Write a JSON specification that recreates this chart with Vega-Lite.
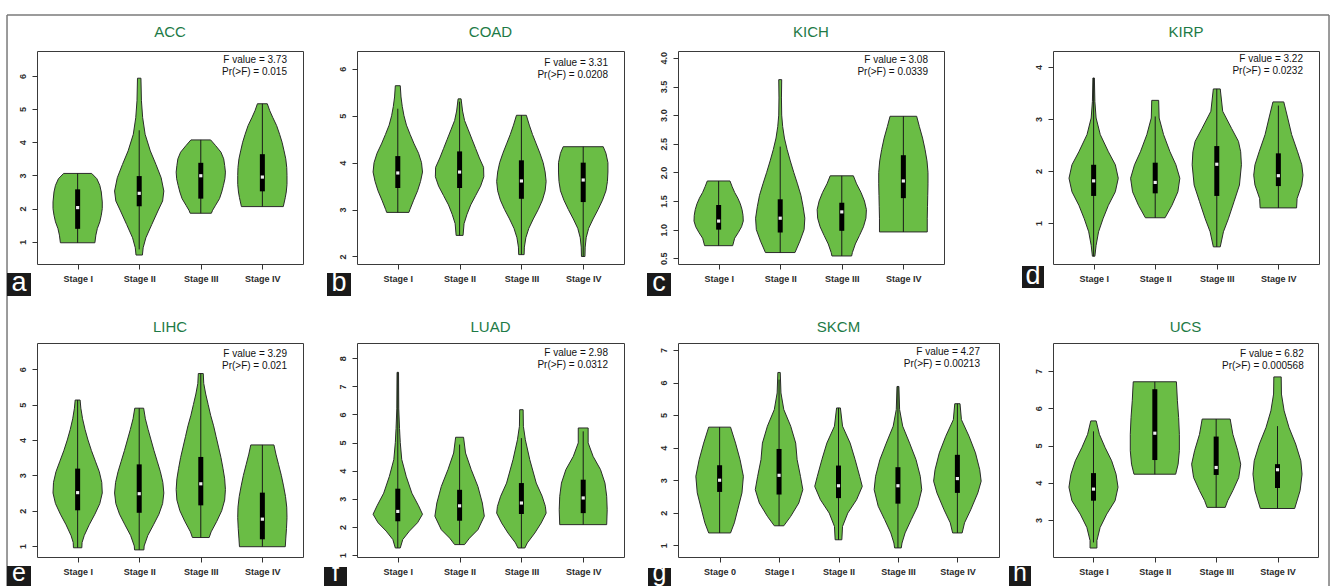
{
"$schema": "https://vega.github.io/schema/vega-lite/v6.json",
"padding": {"left": 5, "top": 13, "right": 0, "bottom": 0},
"background": "white",
"config": {
  "font": "Liberation Sans",
  "view": {"stroke": "#3a3a3a", "strokeWidth": 1},
  "axis": {"domain": false, "grid": false, "tickColor": "#333", "tickSize": 5, "labelFont": "Liberation Sans", "labelFontSize": 9, "labelFontWeight": "bold", "labelColor": "#2a2a2a", "labelOverlap": false, "labelBound": false},
  "axisQuantitative": {"labelOverlap": false},
  "axisY": {"labelAngle": -90, "labelAlign": "center", "labelBaseline": "bottom", "labelPadding": 5, "labelOverlap": false},
  "axisX": {"labelPadding": 5}
},
"datasets": {
"v": [
{"p":"ACC","s":1,"y":3.06,"d":0.57},{"p":"ACC","s":1,"y":2.9,"d":0.78},{"p":"ACC","s":1,"y":2.7,"d":0.9},{"p":"ACC","s":1,"y":2.5,"d":0.96},{"p":"ACC","s":1,"y":2.2,"d":1},{"p":"ACC","s":1,"y":2.0,"d":1},{"p":"ACC","s":1,"y":1.8,"d":0.96},{"p":"ACC","s":1,"y":1.6,"d":0.9},{"p":"ACC","s":1,"y":1.4,"d":0.8},{"p":"ACC","s":1,"y":1.2,"d":0.74},{"p":"ACC","s":1,"y":0.97,"d":0.7},
{"p":"ACC","s":2,"y":5.93,"d":0.07},{"p":"ACC","s":2,"y":5.25,"d":0.09},{"p":"ACC","s":2,"y":4.74,"d":0.14},{"p":"ACC","s":2,"y":4.24,"d":0.24},{"p":"ACC","s":2,"y":3.74,"d":0.45},{"p":"ACC","s":2,"y":3.33,"d":0.68},{"p":"ACC","s":2,"y":2.93,"d":0.89},{"p":"ACC","s":2,"y":2.53,"d":1},{"p":"ACC","s":2,"y":2.23,"d":0.95},{"p":"ACC","s":2,"y":1.93,"d":0.76},{"p":"ACC","s":2,"y":1.52,"d":0.51},{"p":"ACC","s":2,"y":1.12,"d":0.27},{"p":"ACC","s":2,"y":0.82,"d":0.16},{"p":"ACC","s":2,"y":0.6,"d":0.13},
{"p":"ACC","s":3,"y":4.07,"d":0.4},{"p":"ACC","s":3,"y":3.9,"d":0.6},{"p":"ACC","s":3,"y":3.7,"d":0.82},{"p":"ACC","s":3,"y":3.5,"d":0.93},{"p":"ACC","s":3,"y":3.3,"d":0.97},{"p":"ACC","s":3,"y":3.1,"d":1},{"p":"ACC","s":3,"y":2.9,"d":0.98},{"p":"ACC","s":3,"y":2.7,"d":0.92},{"p":"ACC","s":3,"y":2.5,"d":0.85},{"p":"ACC","s":3,"y":2.3,"d":0.76},{"p":"ACC","s":3,"y":2.1,"d":0.6},{"p":"ACC","s":3,"y":1.95,"d":0.48},{"p":"ACC","s":3,"y":1.86,"d":0.43},
{"p":"ACC","s":4,"y":5.16,"d":0.2},{"p":"ACC","s":4,"y":4.95,"d":0.3},{"p":"ACC","s":4,"y":4.75,"d":0.42},{"p":"ACC","s":4,"y":4.5,"d":0.58},{"p":"ACC","s":4,"y":4.24,"d":0.7},{"p":"ACC","s":4,"y":4.0,"d":0.8},{"p":"ACC","s":4,"y":3.74,"d":0.88},{"p":"ACC","s":4,"y":3.5,"d":0.95},{"p":"ACC","s":4,"y":3.24,"d":0.99},{"p":"ACC","s":4,"y":3.0,"d":1},{"p":"ACC","s":4,"y":2.73,"d":1},{"p":"ACC","s":4,"y":2.5,"d":0.97},{"p":"ACC","s":4,"y":2.33,"d":0.93},{"p":"ACC","s":4,"y":2.06,"d":0.85},

{"p":"COAD","s":1,"y":5.64,"d":0.1},{"p":"COAD","s":1,"y":5.4,"d":0.13},{"p":"COAD","s":1,"y":5.2,"d":0.18},{"p":"COAD","s":1,"y":5.0,"d":0.25},{"p":"COAD","s":1,"y":4.8,"d":0.35},{"p":"COAD","s":1,"y":4.6,"d":0.5},{"p":"COAD","s":1,"y":4.4,"d":0.66},{"p":"COAD","s":1,"y":4.2,"d":0.84},{"p":"COAD","s":1,"y":4.0,"d":0.96},{"p":"COAD","s":1,"y":3.8,"d":1},{"p":"COAD","s":1,"y":3.6,"d":0.92},{"p":"COAD","s":1,"y":3.4,"d":0.8},{"p":"COAD","s":1,"y":3.2,"d":0.64},{"p":"COAD","s":1,"y":3.0,"d":0.49},{"p":"COAD","s":1,"y":2.94,"d":0.45},
{"p":"COAD","s":2,"y":5.36,"d":0.06},{"p":"COAD","s":2,"y":5.1,"d":0.12},{"p":"COAD","s":2,"y":4.9,"d":0.2},{"p":"COAD","s":2,"y":4.7,"d":0.35},{"p":"COAD","s":2,"y":4.5,"d":0.5},{"p":"COAD","s":2,"y":4.3,"d":0.65},{"p":"COAD","s":2,"y":4.1,"d":0.8},{"p":"COAD","s":2,"y":3.9,"d":0.97},{"p":"COAD","s":2,"y":3.7,"d":0.98},{"p":"COAD","s":2,"y":3.5,"d":0.85},{"p":"COAD","s":2,"y":3.3,"d":0.65},{"p":"COAD","s":2,"y":3.1,"d":0.45},{"p":"COAD","s":2,"y":2.9,"d":0.3},{"p":"COAD","s":2,"y":2.7,"d":0.18},{"p":"COAD","s":2,"y":2.45,"d":0.14},
{"p":"COAD","s":3,"y":5.01,"d":0.2},{"p":"COAD","s":3,"y":4.8,"d":0.32},{"p":"COAD","s":3,"y":4.6,"d":0.45},{"p":"COAD","s":3,"y":4.4,"d":0.6},{"p":"COAD","s":3,"y":4.2,"d":0.75},{"p":"COAD","s":3,"y":4.0,"d":0.88},{"p":"COAD","s":3,"y":3.8,"d":0.96},{"p":"COAD","s":3,"y":3.6,"d":1},{"p":"COAD","s":3,"y":3.4,"d":0.96},{"p":"COAD","s":3,"y":3.2,"d":0.85},{"p":"COAD","s":3,"y":3.0,"d":0.68},{"p":"COAD","s":3,"y":2.8,"d":0.48},{"p":"COAD","s":3,"y":2.6,"d":0.3},{"p":"COAD","s":3,"y":2.4,"d":0.18},{"p":"COAD","s":3,"y":2.2,"d":0.12},{"p":"COAD","s":3,"y":2.04,"d":0.11},
{"p":"COAD","s":4,"y":4.34,"d":0.81},{"p":"COAD","s":4,"y":4.2,"d":0.92},{"p":"COAD","s":4,"y":4.0,"d":1},{"p":"COAD","s":4,"y":3.8,"d":1},{"p":"COAD","s":4,"y":3.6,"d":0.98},{"p":"COAD","s":4,"y":3.4,"d":0.92},{"p":"COAD","s":4,"y":3.2,"d":0.78},{"p":"COAD","s":4,"y":3.0,"d":0.6},{"p":"COAD","s":4,"y":2.8,"d":0.4},{"p":"COAD","s":4,"y":2.6,"d":0.22},{"p":"COAD","s":4,"y":2.4,"d":0.12},{"p":"COAD","s":4,"y":2.2,"d":0.08},{"p":"COAD","s":4,"y":2.0,"d":0.07},

{"p":"KICH","s":1,"y":1.85,"d":0.46},{"p":"KICH","s":1,"y":1.75,"d":0.55},{"p":"KICH","s":1,"y":1.65,"d":0.65},{"p":"KICH","s":1,"y":1.55,"d":0.78},{"p":"KICH","s":1,"y":1.45,"d":0.88},{"p":"KICH","s":1,"y":1.35,"d":0.95},{"p":"KICH","s":1,"y":1.25,"d":0.99},{"p":"KICH","s":1,"y":1.15,"d":1},{"p":"KICH","s":1,"y":1.05,"d":0.93},{"p":"KICH","s":1,"y":0.95,"d":0.8},{"p":"KICH","s":1,"y":0.85,"d":0.65},{"p":"KICH","s":1,"y":0.72,"d":0.57},
{"p":"KICH","s":2,"y":3.62,"d":0.06},{"p":"KICH","s":2,"y":3.3,"d":0.05},{"p":"KICH","s":2,"y":3.0,"d":0.06},{"p":"KICH","s":2,"y":2.8,"d":0.1},{"p":"KICH","s":2,"y":2.6,"d":0.17},{"p":"KICH","s":2,"y":2.4,"d":0.28},{"p":"KICH","s":2,"y":2.2,"d":0.41},{"p":"KICH","s":2,"y":2.0,"d":0.55},{"p":"KICH","s":2,"y":1.8,"d":0.7},{"p":"KICH","s":2,"y":1.6,"d":0.84},{"p":"KICH","s":2,"y":1.4,"d":0.93},{"p":"KICH","s":2,"y":1.2,"d":1},{"p":"KICH","s":2,"y":1.0,"d":0.97},{"p":"KICH","s":2,"y":0.8,"d":0.8},{"p":"KICH","s":2,"y":0.6,"d":0.6},
{"p":"KICH","s":3,"y":1.94,"d":0.47},{"p":"KICH","s":3,"y":1.8,"d":0.6},{"p":"KICH","s":3,"y":1.65,"d":0.78},{"p":"KICH","s":3,"y":1.5,"d":0.92},{"p":"KICH","s":3,"y":1.35,"d":1},{"p":"KICH","s":3,"y":1.2,"d":0.98},{"p":"KICH","s":3,"y":1.05,"d":0.88},{"p":"KICH","s":3,"y":0.9,"d":0.72},{"p":"KICH","s":3,"y":0.75,"d":0.55},{"p":"KICH","s":3,"y":0.6,"d":0.43},{"p":"KICH","s":3,"y":0.54,"d":0.4},
{"p":"KICH","s":4,"y":2.98,"d":0.54},{"p":"KICH","s":4,"y":2.8,"d":0.65},{"p":"KICH","s":4,"y":2.6,"d":0.78},{"p":"KICH","s":4,"y":2.4,"d":0.88},{"p":"KICH","s":4,"y":2.2,"d":0.96},{"p":"KICH","s":4,"y":2.0,"d":1},{"p":"KICH","s":4,"y":1.8,"d":1},{"p":"KICH","s":4,"y":1.6,"d":0.99},{"p":"KICH","s":4,"y":1.4,"d":0.98},{"p":"KICH","s":4,"y":1.2,"d":0.97},{"p":"KICH","s":4,"y":0.96,"d":0.97},

{"p":"KIRP","s":1,"y":3.79,"d":0.03},{"p":"KIRP","s":1,"y":3.34,"d":0.05},{"p":"KIRP","s":1,"y":3.02,"d":0.1},{"p":"KIRP","s":1,"y":2.7,"d":0.27},{"p":"KIRP","s":1,"y":2.37,"d":0.6},{"p":"KIRP","s":1,"y":2.12,"d":0.88},{"p":"KIRP","s":1,"y":1.86,"d":1},{"p":"KIRP","s":1,"y":1.6,"d":0.88},{"p":"KIRP","s":1,"y":1.34,"d":0.6},{"p":"KIRP","s":1,"y":1.08,"d":0.38},{"p":"KIRP","s":1,"y":0.83,"d":0.2},{"p":"KIRP","s":1,"y":0.57,"d":0.1},{"p":"KIRP","s":1,"y":0.36,"d":0.05},
{"p":"KIRP","s":2,"y":3.36,"d":0.14},{"p":"KIRP","s":2,"y":3.02,"d":0.16},{"p":"KIRP","s":2,"y":2.7,"d":0.34},{"p":"KIRP","s":2,"y":2.37,"d":0.6},{"p":"KIRP","s":2,"y":2.12,"d":0.84},{"p":"KIRP","s":2,"y":1.86,"d":1},{"p":"KIRP","s":2,"y":1.6,"d":0.92},{"p":"KIRP","s":2,"y":1.34,"d":0.68},{"p":"KIRP","s":2,"y":1.1,"d":0.4},
{"p":"KIRP","s":3,"y":3.58,"d":0.14},{"p":"KIRP","s":3,"y":3.15,"d":0.24},{"p":"KIRP","s":3,"y":2.82,"d":0.6},{"p":"KIRP","s":3,"y":2.57,"d":0.88},{"p":"KIRP","s":3,"y":2.37,"d":0.97},{"p":"KIRP","s":3,"y":2.12,"d":1},{"p":"KIRP","s":3,"y":1.73,"d":0.92},{"p":"KIRP","s":3,"y":1.41,"d":0.7},{"p":"KIRP","s":3,"y":1.08,"d":0.47},{"p":"KIRP","s":3,"y":0.83,"d":0.27},{"p":"KIRP","s":3,"y":0.54,"d":0.14},
{"p":"KIRP","s":4,"y":3.33,"d":0.22},{"p":"KIRP","s":4,"y":3.02,"d":0.38},{"p":"KIRP","s":4,"y":2.7,"d":0.54},{"p":"KIRP","s":4,"y":2.37,"d":0.78},{"p":"KIRP","s":4,"y":2.12,"d":0.95},{"p":"KIRP","s":4,"y":1.92,"d":1},{"p":"KIRP","s":4,"y":1.73,"d":0.95},{"p":"KIRP","s":4,"y":1.47,"d":0.76},{"p":"KIRP","s":4,"y":1.29,"d":0.74},

{"p":"LIHC","s":1,"y":5.13,"d":0.1},{"p":"LIHC","s":1,"y":4.9,"d":0.13},{"p":"LIHC","s":1,"y":4.6,"d":0.2},{"p":"LIHC","s":1,"y":4.3,"d":0.3},{"p":"LIHC","s":1,"y":4.0,"d":0.42},{"p":"LIHC","s":1,"y":3.7,"d":0.56},{"p":"LIHC","s":1,"y":3.4,"d":0.72},{"p":"LIHC","s":1,"y":3.1,"d":0.88},{"p":"LIHC","s":1,"y":2.8,"d":0.98},{"p":"LIHC","s":1,"y":2.5,"d":1},{"p":"LIHC","s":1,"y":2.2,"d":0.9},{"p":"LIHC","s":1,"y":1.9,"d":0.7},{"p":"LIHC","s":1,"y":1.6,"d":0.47},{"p":"LIHC","s":1,"y":1.3,"d":0.27},{"p":"LIHC","s":1,"y":1.1,"d":0.18},{"p":"LIHC","s":1,"y":0.95,"d":0.17},
{"p":"LIHC","s":2,"y":4.9,"d":0.18},{"p":"LIHC","s":2,"y":4.6,"d":0.25},{"p":"LIHC","s":2,"y":4.3,"d":0.36},{"p":"LIHC","s":2,"y":4.0,"d":0.48},{"p":"LIHC","s":2,"y":3.7,"d":0.6},{"p":"LIHC","s":2,"y":3.4,"d":0.73},{"p":"LIHC","s":2,"y":3.1,"d":0.86},{"p":"LIHC","s":2,"y":2.8,"d":0.96},{"p":"LIHC","s":2,"y":2.5,"d":1},{"p":"LIHC","s":2,"y":2.2,"d":0.95},{"p":"LIHC","s":2,"y":1.9,"d":0.8},{"p":"LIHC","s":2,"y":1.6,"d":0.58},{"p":"LIHC","s":2,"y":1.3,"d":0.35},{"p":"LIHC","s":2,"y":1.0,"d":0.2},{"p":"LIHC","s":2,"y":0.89,"d":0.19},
{"p":"LIHC","s":3,"y":5.88,"d":0.1},{"p":"LIHC","s":3,"y":5.6,"d":0.12},{"p":"LIHC","s":3,"y":5.3,"d":0.2},{"p":"LIHC","s":3,"y":5.0,"d":0.3},{"p":"LIHC","s":3,"y":4.7,"d":0.4},{"p":"LIHC","s":3,"y":4.4,"d":0.52},{"p":"LIHC","s":3,"y":4.1,"d":0.62},{"p":"LIHC","s":3,"y":3.8,"d":0.72},{"p":"LIHC","s":3,"y":3.5,"d":0.82},{"p":"LIHC","s":3,"y":3.2,"d":0.9},{"p":"LIHC","s":3,"y":2.9,"d":0.97},{"p":"LIHC","s":3,"y":2.6,"d":1},{"p":"LIHC","s":3,"y":2.3,"d":0.97},{"p":"LIHC","s":3,"y":2.0,"d":0.85},{"p":"LIHC","s":3,"y":1.7,"d":0.65},{"p":"LIHC","s":3,"y":1.4,"d":0.42},{"p":"LIHC","s":3,"y":1.24,"d":0.34},
{"p":"LIHC","s":4,"y":3.86,"d":0.47},{"p":"LIHC","s":4,"y":3.6,"d":0.55},{"p":"LIHC","s":4,"y":3.3,"d":0.66},{"p":"LIHC","s":4,"y":3.0,"d":0.77},{"p":"LIHC","s":4,"y":2.7,"d":0.86},{"p":"LIHC","s":4,"y":2.4,"d":0.94},{"p":"LIHC","s":4,"y":2.1,"d":0.99},{"p":"LIHC","s":4,"y":1.8,"d":1},{"p":"LIHC","s":4,"y":1.5,"d":0.98},{"p":"LIHC","s":4,"y":1.2,"d":0.95},{"p":"LIHC","s":4,"y":0.98,"d":0.93},

{"p":"LUAD","s":1,"y":7.5,"d":0.03},{"p":"LUAD","s":1,"y":6.2,"d":0.04},{"p":"LUAD","s":1,"y":5.5,"d":0.07},{"p":"LUAD","s":1,"y":5.0,"d":0.1},{"p":"LUAD","s":1,"y":4.4,"d":0.16},{"p":"LUAD","s":1,"y":3.8,"d":0.34},{"p":"LUAD","s":1,"y":3.2,"d":0.57},{"p":"LUAD","s":1,"y":2.75,"d":0.84},{"p":"LUAD","s":1,"y":2.45,"d":1},{"p":"LUAD","s":1,"y":2.15,"d":0.8},{"p":"LUAD","s":1,"y":1.85,"d":0.47},{"p":"LUAD","s":1,"y":1.55,"d":0.2},{"p":"LUAD","s":1,"y":1.25,"d":0.1},
{"p":"LUAD","s":2,"y":5.19,"d":0.16},{"p":"LUAD","s":2,"y":4.63,"d":0.24},{"p":"LUAD","s":2,"y":4.04,"d":0.47},{"p":"LUAD","s":2,"y":3.44,"d":0.74},{"p":"LUAD","s":2,"y":2.85,"d":0.92},{"p":"LUAD","s":2,"y":2.38,"d":1},{"p":"LUAD","s":2,"y":1.9,"d":0.74},{"p":"LUAD","s":2,"y":1.6,"d":0.4},{"p":"LUAD","s":2,"y":1.37,"d":0.2},
{"p":"LUAD","s":3,"y":6.17,"d":0.07},{"p":"LUAD","s":3,"y":5.58,"d":0.08},{"p":"LUAD","s":3,"y":5.1,"d":0.16},{"p":"LUAD","s":3,"y":4.39,"d":0.34},{"p":"LUAD","s":3,"y":3.56,"d":0.6},{"p":"LUAD","s":3,"y":3.09,"d":0.84},{"p":"LUAD","s":3,"y":2.73,"d":0.97},{"p":"LUAD","s":3,"y":2.49,"d":1},{"p":"LUAD","s":3,"y":2.14,"d":0.8},{"p":"LUAD","s":3,"y":1.78,"d":0.54},{"p":"LUAD","s":3,"y":1.43,"d":0.24},{"p":"LUAD","s":3,"y":1.25,"d":0.14},
{"p":"LUAD","s":4,"y":5.52,"d":0.2},{"p":"LUAD","s":4,"y":4.99,"d":0.2},{"p":"LUAD","s":4,"y":4.51,"d":0.4},{"p":"LUAD","s":4,"y":4.04,"d":0.7},{"p":"LUAD","s":4,"y":3.56,"d":0.88},{"p":"LUAD","s":4,"y":3.09,"d":0.95},{"p":"LUAD","s":4,"y":2.61,"d":0.97},{"p":"LUAD","s":4,"y":2.08,"d":0.95},

{"p":"SKCM","s":1,"y":4.63,"d":0.46},{"p":"SKCM","s":1,"y":4.14,"d":0.67},{"p":"SKCM","s":1,"y":3.63,"d":0.86},{"p":"SKCM","s":1,"y":3.12,"d":1},{"p":"SKCM","s":1,"y":2.61,"d":0.94},{"p":"SKCM","s":1,"y":2.09,"d":0.76},{"p":"SKCM","s":1,"y":1.69,"d":0.62},{"p":"SKCM","s":1,"y":1.38,"d":0.46},
{"p":"SKCM","s":2,"y":6.31,"d":0.05},{"p":"SKCM","s":2,"y":5.68,"d":0.08},{"p":"SKCM","s":2,"y":5.17,"d":0.2},{"p":"SKCM","s":2,"y":4.66,"d":0.49},{"p":"SKCM","s":2,"y":4.14,"d":0.7},{"p":"SKCM","s":2,"y":3.63,"d":0.76},{"p":"SKCM","s":2,"y":3.12,"d":0.9},{"p":"SKCM","s":2,"y":2.71,"d":1},{"p":"SKCM","s":2,"y":2.3,"d":0.83},{"p":"SKCM","s":2,"y":1.89,"d":0.49},{"p":"SKCM","s":2,"y":1.6,"d":0.2},
{"p":"SKCM","s":3,"y":5.22,"d":0.08},{"p":"SKCM","s":3,"y":4.66,"d":0.17},{"p":"SKCM","s":3,"y":4.14,"d":0.49},{"p":"SKCM","s":3,"y":3.63,"d":0.7},{"p":"SKCM","s":3,"y":3.12,"d":0.89},{"p":"SKCM","s":3,"y":2.81,"d":1},{"p":"SKCM","s":3,"y":2.4,"d":0.76},{"p":"SKCM","s":3,"y":1.99,"d":0.39},{"p":"SKCM","s":3,"y":1.58,"d":0.17},{"p":"SKCM","s":3,"y":1.17,"d":0.14},
{"p":"SKCM","s":4,"y":5.88,"d":0.04},{"p":"SKCM","s":4,"y":5.17,"d":0.07},{"p":"SKCM","s":4,"y":4.66,"d":0.2},{"p":"SKCM","s":4,"y":4.14,"d":0.49},{"p":"SKCM","s":4,"y":3.63,"d":0.76},{"p":"SKCM","s":4,"y":3.12,"d":0.94},{"p":"SKCM","s":4,"y":2.71,"d":1},{"p":"SKCM","s":4,"y":2.2,"d":0.83},{"p":"SKCM","s":4,"y":1.79,"d":0.56},{"p":"SKCM","s":4,"y":1.38,"d":0.3},{"p":"SKCM","s":4,"y":1.07,"d":0.17},{"p":"SKCM","s":4,"y":0.92,"d":0.14},
{"p":"SKCM","s":5,"y":5.35,"d":0.11},{"p":"SKCM","s":5,"y":4.86,"d":0.17},{"p":"SKCM","s":5,"y":4.35,"d":0.49},{"p":"SKCM","s":5,"y":3.84,"d":0.76},{"p":"SKCM","s":5,"y":3.32,"d":0.94},{"p":"SKCM","s":5,"y":2.97,"d":1},{"p":"SKCM","s":5,"y":2.61,"d":0.86},{"p":"SKCM","s":5,"y":2.09,"d":0.56},{"p":"SKCM","s":5,"y":1.69,"d":0.3},{"p":"SKCM","s":5,"y":1.38,"d":0.2},

{"p":"UCS","s":1,"y":5.66,"d":0.11},{"p":"UCS","s":1,"y":5.3,"d":0.24},{"p":"UCS","s":1,"y":4.95,"d":0.47},{"p":"UCS","s":1,"y":4.59,"d":0.74},{"p":"UCS","s":1,"y":4.23,"d":0.92},{"p":"UCS","s":1,"y":3.88,"d":1},{"p":"UCS","s":1,"y":3.52,"d":0.88},{"p":"UCS","s":1,"y":3.16,"d":0.54},{"p":"UCS","s":1,"y":2.8,"d":0.27},{"p":"UCS","s":1,"y":2.45,"d":0.14},{"p":"UCS","s":1,"y":2.25,"d":0.14},
{"p":"UCS","s":2,"y":6.71,"d":0.88},{"p":"UCS","s":2,"y":6.2,"d":0.92},{"p":"UCS","s":2,"y":5.75,"d":0.97},{"p":"UCS","s":2,"y":5.3,"d":1},{"p":"UCS","s":2,"y":4.86,"d":1},{"p":"UCS","s":2,"y":4.5,"d":0.95},{"p":"UCS","s":2,"y":4.23,"d":0.85},
{"p":"UCS","s":3,"y":5.71,"d":0.57},{"p":"UCS","s":3,"y":5.3,"d":0.68},{"p":"UCS","s":3,"y":4.86,"d":0.88},{"p":"UCS","s":3,"y":4.5,"d":1},{"p":"UCS","s":3,"y":4.14,"d":0.92},{"p":"UCS","s":3,"y":3.79,"d":0.68},{"p":"UCS","s":3,"y":3.52,"d":0.47},{"p":"UCS","s":3,"y":3.34,"d":0.37},
{"p":"UCS","s":4,"y":6.84,"d":0.15},{"p":"UCS","s":4,"y":6.38,"d":0.16},{"p":"UCS","s":4,"y":5.93,"d":0.27},{"p":"UCS","s":4,"y":5.48,"d":0.47},{"p":"UCS","s":4,"y":5.04,"d":0.74},{"p":"UCS","s":4,"y":4.59,"d":0.95},{"p":"UCS","s":4,"y":4.23,"d":1},{"p":"UCS","s":4,"y":3.79,"d":0.92},{"p":"UCS","s":4,"y":3.31,"d":0.7}
],
"b": [
{"p":"ACC","s":1,"lo":0.97,"q1":1.39,"m":2.03,"q3":2.58,"hi":3.06},
{"p":"ACC","s":2,"lo":0.77,"q1":2.07,"m":2.46,"q3":2.98,"hi":4.36},
{"p":"ACC","s":3,"lo":1.86,"q1":2.30,"m":2.99,"q3":3.38,"hi":4.07},
{"p":"ACC","s":4,"lo":2.06,"q1":2.52,"m":2.95,"q3":3.64,"hi":5.16},
{"p":"COAD","s":1,"lo":2.94,"q1":3.46,"m":3.78,"q3":4.14,"hi":5.15},
{"p":"COAD","s":2,"lo":2.45,"q1":3.46,"m":3.80,"q3":4.24,"hi":5.3},
{"p":"COAD","s":3,"lo":2.04,"q1":3.23,"m":3.61,"q3":4.05,"hi":5.01},
{"p":"COAD","s":4,"lo":2.0,"q1":3.16,"m":3.63,"q3":4.0,"hi":4.34},
{"p":"KICH","s":1,"lo":0.72,"q1":1.0,"m":1.15,"q3":1.43,"hi":1.85},
{"p":"KICH","s":2,"lo":0.6,"q1":0.95,"m":1.2,"q3":1.53,"hi":2.45},
{"p":"KICH","s":3,"lo":0.54,"q1":0.98,"m":1.31,"q3":1.47,"hi":1.94},
{"p":"KICH","s":4,"lo":0.96,"q1":1.55,"m":1.85,"q3":2.3,"hi":2.98},
{"p":"KIRP","s":1,"lo":0.36,"q1":1.52,"m":1.81,"q3":2.12,"hi":3.79},
{"p":"KIRP","s":2,"lo":1.1,"q1":1.57,"m":1.78,"q3":2.16,"hi":3.05},
{"p":"KIRP","s":3,"lo":0.54,"q1":1.52,"m":2.13,"q3":2.48,"hi":3.58},
{"p":"KIRP","s":4,"lo":1.29,"q1":1.71,"m":1.91,"q3":2.34,"hi":3.26},
{"p":"LIHC","s":1,"lo":0.95,"q1":2.01,"m":2.51,"q3":3.19,"hi":5.13},
{"p":"LIHC","s":2,"lo":0.89,"q1":1.94,"m":2.48,"q3":3.31,"hi":4.9},
{"p":"LIHC","s":3,"lo":1.24,"q1":2.15,"m":2.76,"q3":3.52,"hi":5.88},
{"p":"LIHC","s":4,"lo":0.98,"q1":1.19,"m":1.76,"q3":2.51,"hi":3.86},
{"p":"LUAD","s":1,"lo":1.25,"q1":2.2,"m":2.55,"q3":3.36,"hi":7.5},
{"p":"LUAD","s":2,"lo":1.37,"q1":2.22,"m":2.75,"q3":3.32,"hi":4.93},
{"p":"LUAD","s":3,"lo":1.25,"q1":2.46,"m":2.85,"q3":3.56,"hi":5.16},
{"p":"LUAD","s":4,"lo":2.08,"q1":2.49,"m":3.03,"q3":3.68,"hi":5.4},
{"p":"SKCM","s":1,"lo":1.38,"q1":2.64,"m":3.0,"q3":3.46,"hi":4.63},
{"p":"SKCM","s":2,"lo":1.6,"q1":2.56,"m":3.15,"q3":3.96,"hi":6.09},
{"p":"SKCM","s":3,"lo":1.17,"q1":2.45,"m":2.83,"q3":3.45,"hi":5.22},
{"p":"SKCM","s":4,"lo":0.92,"q1":2.28,"m":2.83,"q3":3.4,"hi":5.88},
{"p":"SKCM","s":5,"lo":1.38,"q1":2.61,"m":3.05,"q3":3.78,"hi":5.35},
{"p":"UCS","s":1,"lo":2.4,"q1":3.52,"m":3.83,"q3":4.26,"hi":5.38},
{"p":"UCS","s":2,"lo":4.23,"q1":4.61,"m":5.33,"q3":6.51,"hi":6.71},
{"p":"UCS","s":3,"lo":3.34,"q1":4.21,"m":4.41,"q3":5.24,"hi":5.71},
{"p":"UCS","s":4,"lo":3.31,"q1":3.86,"m":4.35,"q3":4.5,"hi":5.52}
]
},
"columns": 4,
"bounds": "flush",
"align": {"row": "all", "column": "none"},
"spacing": {"row": 78, "column": 54},
"concat": [
 {"width": 266, "height": 213, "resolve": {"axis": {"x": "independent", "y": "independent"}},
  "layer": [
   {"data": {"values": [{}]}, "mark": {"type": "rule", "color": "#7a7a7a", "strokeWidth": 1.5},
    "encoding": {"x": {"datum": -0.147, "type": "quantitative", "axis": null}, "x2": {"datum": 21.323}, "y": {"datum": 7.835, "type": "quantitative", "axis": null}}},
   {"data": {"values": [{}]}, "mark": {"type": "rule", "color": "#7a7a7a", "strokeWidth": 1.5},
    "encoding": {"x": {"datum": -0.147, "type": "quantitative", "axis": null}, "y": {"datum": 7.835, "type": "quantitative", "axis": null}, "y2": {"datum": -9.375}}},
   {"data": {"values": [{}]}, "mark": {"type": "rule", "color": "#7a7a7a", "strokeWidth": 1.5},
    "encoding": {"x": {"datum": 21.323, "type": "quantitative", "axis": null}, "y": {"datum": 7.835, "type": "quantitative", "axis": null}, "y2": {"datum": -9.375}}},
   {"data": {"name": "v"}, "transform": [{"filter": "datum.p==='ACC'"}, {"calculate": "datum.s-0.4*datum.d", "as": "xa"}, {"calculate": "datum.s+0.4*datum.d", "as": "xb"}],
    "mark": {"type": "area", "orient": "horizontal", "fill": "#6abd45", "stroke": "#2b2b2b", "strokeWidth": 1, "opacity": 1},
    "encoding": {"y": {"field": "y", "type": "quantitative", "scale": {"domain": [0.33, 6.75], "nice": false, "zero": false}, "axis": {"values": [1,2,3,4,5,6], "format": "d", "title": null, "labelOverlap": false}},
     "x": {"field": "xa", "type": "quantitative", "scale": {"domain": [0.34, 4.66], "nice": false, "zero": false}, "axis": {"values": [1,2,3,4], "title": null, "labelOverlap": false, "labelExpr": "['','Stage I','Stage II','Stage III','Stage IV'][datum.value]"}},
     "x2": {"field": "xb"}, "detail": {"field": "s", "type": "nominal"}}},
   {"data": {"name": "b"}, "transform": [{"filter": "datum.p==='ACC'"}], "mark": {"type": "rule", "color": "#1a1a1a", "strokeWidth": 1},
    "encoding": {"x": {"field": "s", "type": "quantitative", "axis": null}, "y": {"field": "lo", "type": "quantitative", "axis": null}, "y2": {"field": "hi"}}},
   {"data": {"name": "b"}, "transform": [{"filter": "datum.p==='ACC'"}], "mark": {"type": "rule", "color": "#000", "strokeWidth": 5},
    "encoding": {"x": {"field": "s", "type": "quantitative", "axis": null}, "y": {"field": "q1", "type": "quantitative", "axis": null}, "y2": {"field": "q3"}}},
   {"data": {"name": "b"}, "transform": [{"filter": "datum.p==='ACC'"}], "mark": {"type": "point", "shape": "square", "filled": true, "color": "#eeeeee", "size": 10, "opacity": 1},
    "encoding": {"x": {"field": "s", "type": "quantitative", "axis": null}, "y": {"field": "m", "type": "quantitative", "axis": null}}},
   {"data": {"values": [{}]}, "mark": {"type": "text", "text": "ACC", "align": "center", "baseline": "alphabetic", "fontSize": 15, "color": "#1d7a46"},
    "encoding": {"x": {"datum": 2.5, "type": "quantitative", "axis": null}, "y": {"datum": 7.181, "type": "quantitative", "axis": null}}},
   {"data": {"values": [{}]}, "mark": {"type": "text", "text": ["F value = 3.73", "Pr(>F) = 0.015"], "align": "right", "baseline": "top", "fontSize": 10, "lineHeight": 12, "color": "#111"},
    "encoding": {"x": {"datum": 4.4, "type": "quantitative", "axis": null}, "y": {"datum": 6.644, "type": "quantitative", "axis": null}}},
   {"data": {"values": [{}]}, "mark": {"type": "rect", "color": "#1a1a1a"},
    "encoding": {"x": {"datum": -0.147, "type": "quantitative", "axis": null}, "x2": {"datum": 0.2426}, "y": {"datum": 0.059, "type": "quantitative", "axis": null}, "y2": {"datum": -0.6345}}},
   {"data": {"values": [{}]}, "mark": {"type": "text", "text": "a", "fontSize": 27, "color": "white", "align": "center", "baseline": "alphabetic"},
    "encoding": {"x": {"datum": 0.0477, "type": "quantitative", "axis": null}, "y": {"datum": -0.4838, "type": "quantitative", "axis": null}}}
  ]},
 {"width": 267, "height": 213, "resolve": {"axis": {"x": "independent", "y": "independent"}},
  "layer": [
   {"data": {"name": "v"}, "transform": [{"filter": "datum.p==='COAD'"}, {"calculate": "datum.s-0.4*datum.d", "as": "xa"}, {"calculate": "datum.s+0.4*datum.d", "as": "xb"}],
    "mark": {"type": "area", "orient": "horizontal", "fill": "#6abd45", "stroke": "#2b2b2b", "strokeWidth": 1, "opacity": 1},
    "encoding": {"y": {"field": "y", "type": "quantitative", "scale": {"domain": [1.84, 6.38], "nice": false, "zero": false}, "axis": {"values": [2,3,4,5,6], "format": "d", "title": null, "labelOverlap": false}},
     "x": {"field": "xa", "type": "quantitative", "scale": {"domain": [0.34, 4.66], "nice": false, "zero": false}, "axis": {"values": [1,2,3,4], "title": null, "labelOverlap": false, "labelExpr": "['','Stage I','Stage II','Stage III','Stage IV'][datum.value]"}},
     "x2": {"field": "xb"}, "detail": {"field": "s", "type": "nominal"}}},
   {"data": {"name": "b"}, "transform": [{"filter": "datum.p==='COAD'"}], "mark": {"type": "rule", "color": "#1a1a1a", "strokeWidth": 1},
    "encoding": {"x": {"field": "s", "type": "quantitative", "axis": null}, "y": {"field": "lo", "type": "quantitative", "axis": null}, "y2": {"field": "hi"}}},
   {"data": {"name": "b"}, "transform": [{"filter": "datum.p==='COAD'"}], "mark": {"type": "rule", "color": "#000", "strokeWidth": 5},
    "encoding": {"x": {"field": "s", "type": "quantitative", "axis": null}, "y": {"field": "q1", "type": "quantitative", "axis": null}, "y2": {"field": "q3"}}},
   {"data": {"name": "b"}, "transform": [{"filter": "datum.p==='COAD'"}], "mark": {"type": "point", "shape": "square", "filled": true, "color": "#eeeeee", "size": 10, "opacity": 1},
    "encoding": {"x": {"field": "s", "type": "quantitative", "axis": null}, "y": {"field": "m", "type": "quantitative", "axis": null}}},
   {"data": {"values": [{}]}, "mark": {"type": "text", "text": "COAD", "align": "center", "baseline": "alphabetic", "fontSize": 15, "color": "#1d7a46"},
    "encoding": {"x": {"datum": 2.5, "type": "quantitative", "axis": null}, "y": {"datum": 6.685, "type": "quantitative", "axis": null}}},
   {"data": {"values": [{}]}, "mark": {"type": "text", "text": ["F value = 3.31", "Pr(>F) = 0.0208"], "align": "right", "baseline": "top", "fontSize": 10, "lineHeight": 12, "color": "#111"},
    "encoding": {"x": {"datum": 4.401, "type": "quantitative", "axis": null}, "y": {"datum": 6.235, "type": "quantitative", "axis": null}}},
   {"data": {"values": [{}]}, "mark": {"type": "rect", "color": "#1a1a1a"},
    "encoding": {"x": {"datum": -0.1454, "type": "quantitative", "axis": null}, "x2": {"datum": 0.2429}, "y": {"datum": 1.648, "type": "quantitative", "axis": null}, "y2": {"datum": 1.158}}},
   {"data": {"values": [{}]}, "mark": {"type": "text", "text": "b", "fontSize": 27, "color": "white", "align": "center", "baseline": "alphabetic"},
    "encoding": {"x": {"datum": 0.0488, "type": "quantitative", "axis": null}, "y": {"datum": 1.264, "type": "quantitative", "axis": null}}}
  ]},
 {"width": 266, "height": 213, "resolve": {"axis": {"x": "independent", "y": "independent"}},
  "layer": [
   {"data": {"name": "v"}, "transform": [{"filter": "datum.p==='KICH'"}, {"calculate": "datum.s-0.4*datum.d", "as": "xa"}, {"calculate": "datum.s+0.4*datum.d", "as": "xb"}],
    "mark": {"type": "area", "orient": "horizontal", "fill": "#6abd45", "stroke": "#2b2b2b", "strokeWidth": 1, "opacity": 1},
    "encoding": {"y": {"field": "y", "type": "quantitative", "scale": {"domain": [0.40, 4.12], "nice": false, "zero": false}, "axis": {"values": [0.5,1,1.5,2,2.5,3,3.5,4], "format": ".1f", "title": null, "labelOverlap": false}},
     "x": {"field": "xa", "type": "quantitative", "scale": {"domain": [0.34, 4.66], "nice": false, "zero": false}, "axis": {"values": [1,2,3,4], "title": null, "labelOverlap": false, "labelExpr": "['','Stage I','Stage II','Stage III','Stage IV'][datum.value]"}},
     "x2": {"field": "xb"}, "detail": {"field": "s", "type": "nominal"}}},
   {"data": {"name": "b"}, "transform": [{"filter": "datum.p==='KICH'"}], "mark": {"type": "rule", "color": "#1a1a1a", "strokeWidth": 1},
    "encoding": {"x": {"field": "s", "type": "quantitative", "axis": null}, "y": {"field": "lo", "type": "quantitative", "axis": null}, "y2": {"field": "hi"}}},
   {"data": {"name": "b"}, "transform": [{"filter": "datum.p==='KICH'"}], "mark": {"type": "rule", "color": "#000", "strokeWidth": 5},
    "encoding": {"x": {"field": "s", "type": "quantitative", "axis": null}, "y": {"field": "q1", "type": "quantitative", "axis": null}, "y2": {"field": "q3"}}},
   {"data": {"name": "b"}, "transform": [{"filter": "datum.p==='KICH'"}], "mark": {"type": "point", "shape": "square", "filled": true, "color": "#eeeeee", "size": 10, "opacity": 1},
    "encoding": {"x": {"field": "s", "type": "quantitative", "axis": null}, "y": {"field": "m", "type": "quantitative", "axis": null}}},
   {"data": {"values": [{}]}, "mark": {"type": "text", "text": "KICH", "align": "center", "baseline": "alphabetic", "fontSize": 15, "color": "#1d7a46"},
    "encoding": {"x": {"datum": 2.5, "type": "quantitative", "axis": null}, "y": {"datum": 4.37, "type": "quantitative", "axis": null}}},
   {"data": {"values": [{}]}, "mark": {"type": "text", "text": ["F value = 3.08", "Pr(>F) = 0.0339"], "align": "right", "baseline": "top", "fontSize": 10, "lineHeight": 12, "color": "#111"},
    "encoding": {"x": {"datum": 4.4, "type": "quantitative", "axis": null}, "y": {"datum": 4.054, "type": "quantitative", "axis": null}}},
   {"data": {"values": [{}]}, "mark": {"type": "rect", "color": "#1a1a1a"},
    "encoding": {"x": {"datum": -0.1635, "type": "quantitative", "axis": null}, "x2": {"datum": 0.2263}, "y": {"datum": 0.243, "type": "quantitative", "axis": null}, "y2": {"datum": -0.159}}},
   {"data": {"values": [{}]}, "mark": {"type": "text", "text": "c", "fontSize": 27, "color": "white", "align": "center", "baseline": "alphabetic"},
    "encoding": {"x": {"datum": 0.0314, "type": "quantitative", "axis": null}, "y": {"datum": -0.0716, "type": "quantitative", "axis": null}}}
  ]},
 {"width": 266, "height": 213, "resolve": {"axis": {"x": "independent", "y": "independent"}},
  "layer": [
   {"data": {"name": "v"}, "transform": [{"filter": "datum.p==='KIRP'"}, {"calculate": "datum.s-0.4*datum.d", "as": "xa"}, {"calculate": "datum.s+0.4*datum.d", "as": "xb"}],
    "mark": {"type": "area", "orient": "horizontal", "fill": "#6abd45", "stroke": "#2b2b2b", "strokeWidth": 1, "opacity": 1},
    "encoding": {"y": {"field": "y", "type": "quantitative", "scale": {"domain": [0.21, 4.31], "nice": false, "zero": false}, "axis": {"values": [1,2,3,4], "format": "d", "title": null, "labelOverlap": false}},
     "x": {"field": "xa", "type": "quantitative", "scale": {"domain": [0.34, 4.66], "nice": false, "zero": false}, "axis": {"values": [1,2,3,4], "title": null, "labelOverlap": false, "labelExpr": "['','Stage I','Stage II','Stage III','Stage IV'][datum.value]"}},
     "x2": {"field": "xb"}, "detail": {"field": "s", "type": "nominal"}}},
   {"data": {"name": "b"}, "transform": [{"filter": "datum.p==='KIRP'"}], "mark": {"type": "rule", "color": "#1a1a1a", "strokeWidth": 1},
    "encoding": {"x": {"field": "s", "type": "quantitative", "axis": null}, "y": {"field": "lo", "type": "quantitative", "axis": null}, "y2": {"field": "hi"}}},
   {"data": {"name": "b"}, "transform": [{"filter": "datum.p==='KIRP'"}], "mark": {"type": "rule", "color": "#000", "strokeWidth": 5},
    "encoding": {"x": {"field": "s", "type": "quantitative", "axis": null}, "y": {"field": "q1", "type": "quantitative", "axis": null}, "y2": {"field": "q3"}}},
   {"data": {"name": "b"}, "transform": [{"filter": "datum.p==='KIRP'"}], "mark": {"type": "point", "shape": "square", "filled": true, "color": "#eeeeee", "size": 10, "opacity": 1},
    "encoding": {"x": {"field": "s", "type": "quantitative", "axis": null}, "y": {"field": "m", "type": "quantitative", "axis": null}}},
   {"data": {"values": [{}]}, "mark": {"type": "text", "text": "KIRP", "align": "center", "baseline": "alphabetic", "fontSize": 15, "color": "#1d7a46"},
    "encoding": {"x": {"datum": 2.5, "type": "quantitative", "axis": null}, "y": {"datum": 4.585, "type": "quantitative", "axis": null}}},
   {"data": {"values": [{}]}, "mark": {"type": "text", "text": ["F value = 3.22", "Pr(>F) = 0.0232"], "align": "right", "baseline": "top", "fontSize": 10, "lineHeight": 12, "color": "#111"},
    "encoding": {"x": {"datum": 4.4, "type": "quantitative", "axis": null}, "y": {"datum": 4.243, "type": "quantitative", "axis": null}}},
   {"data": {"values": [{}]}, "mark": {"type": "rect", "color": "#1a1a1a"},
    "encoding": {"x": {"datum": -0.1635, "type": "quantitative", "axis": null}, "x2": {"datum": 0.1938}, "y": {"datum": 0.1715, "type": "quantitative", "axis": null}, "y2": {"datum": -0.252}}},
   {"data": {"values": [{}]}, "mark": {"type": "text", "text": "d", "fontSize": 27, "color": "white", "align": "center", "baseline": "alphabetic"},
    "encoding": {"x": {"datum": 0.0152, "type": "quantitative", "axis": null}, "y": {"datum": -0.175, "type": "quantitative", "axis": null}}}
  ]},
 {"width": 266, "height": 214, "resolve": {"axis": {"x": "independent", "y": "independent"}},
  "layer": [
   {"data": {"name": "v"}, "transform": [{"filter": "datum.p==='LIHC'"}, {"calculate": "datum.s-0.4*datum.d", "as": "xa"}, {"calculate": "datum.s+0.4*datum.d", "as": "xb"}],
    "mark": {"type": "area", "orient": "horizontal", "fill": "#6abd45", "stroke": "#2b2b2b", "strokeWidth": 1, "opacity": 1},
    "encoding": {"y": {"field": "y", "type": "quantitative", "scale": {"domain": [0.689, 6.744], "nice": false, "zero": false}, "axis": {"values": [1,2,3,4,5,6], "format": "d", "title": null, "labelOverlap": false}},
     "x": {"field": "xa", "type": "quantitative", "scale": {"domain": [0.34, 4.66], "nice": false, "zero": false}, "axis": {"values": [1,2,3,4], "title": null, "labelOverlap": false, "labelExpr": "['','Stage I','Stage II','Stage III','Stage IV'][datum.value]"}},
     "x2": {"field": "xb"}, "detail": {"field": "s", "type": "nominal"}}},
   {"data": {"name": "b"}, "transform": [{"filter": "datum.p==='LIHC'"}], "mark": {"type": "rule", "color": "#1a1a1a", "strokeWidth": 1},
    "encoding": {"x": {"field": "s", "type": "quantitative", "axis": null}, "y": {"field": "lo", "type": "quantitative", "axis": null}, "y2": {"field": "hi"}}},
   {"data": {"name": "b"}, "transform": [{"filter": "datum.p==='LIHC'"}], "mark": {"type": "rule", "color": "#000", "strokeWidth": 5},
    "encoding": {"x": {"field": "s", "type": "quantitative", "axis": null}, "y": {"field": "q1", "type": "quantitative", "axis": null}, "y2": {"field": "q3"}}},
   {"data": {"name": "b"}, "transform": [{"filter": "datum.p==='LIHC'"}], "mark": {"type": "point", "shape": "square", "filled": true, "color": "#eeeeee", "size": 10, "opacity": 1},
    "encoding": {"x": {"field": "s", "type": "quantitative", "axis": null}, "y": {"field": "m", "type": "quantitative", "axis": null}}},
   {"data": {"values": [{}]}, "mark": {"type": "text", "text": "LIHC", "align": "center", "baseline": "alphabetic", "fontSize": 15, "color": "#1d7a46"},
    "encoding": {"x": {"datum": 2.5, "type": "quantitative", "axis": null}, "y": {"datum": 7.064, "type": "quantitative", "axis": null}}},
   {"data": {"values": [{}]}, "mark": {"type": "text", "text": ["F value = 3.29", "Pr(>F) = 0.021"], "align": "right", "baseline": "top", "fontSize": 10, "lineHeight": 12, "color": "#111"},
    "encoding": {"x": {"datum": 4.4, "type": "quantitative", "axis": null}, "y": {"datum": 6.58, "type": "quantitative", "axis": null}}},
   {"data": {"values": [{}]}, "mark": {"type": "rect", "color": "#1a1a1a"},
    "encoding": {"x": {"datum": -0.147, "type": "quantitative", "axis": null}, "x2": {"datum": 0.2426}, "y": {"datum": 0.434, "type": "quantitative", "axis": null}, "y2": {"datum": -0.16}}},
   {"data": {"values": [{}]}, "mark": {"type": "text", "text": "e", "fontSize": 25, "color": "white", "align": "center", "baseline": "alphabetic"},
    "encoding": {"x": {"datum": 0.0477, "type": "quantitative", "axis": null}, "y": {"datum": 0.010, "type": "quantitative", "axis": null}}}
  ]},
 {"width": 267, "height": 214, "resolve": {"axis": {"x": "independent", "y": "independent"}},
  "layer": [
   {"data": {"name": "v"}, "transform": [{"filter": "datum.p==='LUAD'"}, {"calculate": "datum.s-0.4*datum.d", "as": "xa"}, {"calculate": "datum.s+0.4*datum.d", "as": "xb"}],
    "mark": {"type": "area", "orient": "horizontal", "fill": "#6abd45", "stroke": "#2b2b2b", "strokeWidth": 1, "opacity": 1},
    "encoding": {"y": {"field": "y", "type": "quantitative", "scale": {"domain": [0.929, 8.544], "nice": false, "zero": false}, "axis": {"values": [1,2,3,4,5,6,7,8], "format": "d", "title": null, "labelOverlap": false}},
     "x": {"field": "xa", "type": "quantitative", "scale": {"domain": [0.34, 4.66], "nice": false, "zero": false}, "axis": {"values": [1,2,3,4], "title": null, "labelOverlap": false, "labelExpr": "['','Stage I','Stage II','Stage III','Stage IV'][datum.value]"}},
     "x2": {"field": "xb"}, "detail": {"field": "s", "type": "nominal"}}},
   {"data": {"name": "b"}, "transform": [{"filter": "datum.p==='LUAD'"}], "mark": {"type": "rule", "color": "#1a1a1a", "strokeWidth": 1},
    "encoding": {"x": {"field": "s", "type": "quantitative", "axis": null}, "y": {"field": "lo", "type": "quantitative", "axis": null}, "y2": {"field": "hi"}}},
   {"data": {"name": "b"}, "transform": [{"filter": "datum.p==='LUAD'"}], "mark": {"type": "rule", "color": "#000", "strokeWidth": 5},
    "encoding": {"x": {"field": "s", "type": "quantitative", "axis": null}, "y": {"field": "q1", "type": "quantitative", "axis": null}, "y2": {"field": "q3"}}},
   {"data": {"name": "b"}, "transform": [{"filter": "datum.p==='LUAD'"}], "mark": {"type": "point", "shape": "square", "filled": true, "color": "#eeeeee", "size": 10, "opacity": 1},
    "encoding": {"x": {"field": "s", "type": "quantitative", "axis": null}, "y": {"field": "m", "type": "quantitative", "axis": null}}},
   {"data": {"values": [{}]}, "mark": {"type": "text", "text": "LUAD", "align": "center", "baseline": "alphabetic", "fontSize": 15, "color": "#1d7a46"},
    "encoding": {"x": {"datum": 2.5, "type": "quantitative", "axis": null}, "y": {"datum": 8.946, "type": "quantitative", "axis": null}}},
   {"data": {"values": [{}]}, "mark": {"type": "text", "text": ["F value = 2.98", "Pr(>F) = 0.0312"], "align": "right", "baseline": "top", "fontSize": 10, "lineHeight": 12, "color": "#111"},
    "encoding": {"x": {"datum": 4.401, "type": "quantitative", "axis": null}, "y": {"datum": 8.373, "type": "quantitative", "axis": null}}},
   {"data": {"values": [{}]}, "mark": {"type": "rect", "color": "#1a1a1a"},
    "encoding": {"x": {"datum": -0.194, "type": "quantitative", "axis": null}, "x2": {"datum": 0.1782}, "y": {"datum": 0.573, "type": "quantitative", "axis": null}, "y2": {"datum": -0.139}}},
   {"data": {"values": [{}]}, "mark": {"type": "text", "text": "f", "fontSize": 25, "color": "white", "align": "center", "baseline": "alphabetic"},
    "encoding": {"x": {"datum": -0.0079, "type": "quantitative", "axis": null}, "y": {"datum": 0.075, "type": "quantitative", "axis": null}}}
  ]},
 {"width": 321, "height": 214, "resolve": {"axis": {"x": "independent", "y": "independent"}},
  "layer": [
   {"data": {"name": "v"}, "transform": [{"filter": "datum.p==='SKCM'"}, {"calculate": "datum.s-0.4*datum.d", "as": "xa"}, {"calculate": "datum.s+0.4*datum.d", "as": "xb"}],
    "mark": {"type": "area", "orient": "horizontal", "fill": "#6abd45", "stroke": "#2b2b2b", "strokeWidth": 1, "opacity": 1},
    "encoding": {"y": {"field": "y", "type": "quantitative", "scale": {"domain": [0.641, 7.215], "nice": false, "zero": false}, "axis": {"values": [1,2,3,4,5,6,7], "format": "d", "title": null, "labelOverlap": false}},
     "x": {"field": "xa", "type": "quantitative", "scale": {"domain": [0.3, 5.7], "nice": false, "zero": false}, "axis": {"values": [1,2,3,4,5], "title": null, "labelOverlap": false, "labelExpr": "['','Stage 0','Stage I','Stage II','Stage III','Stage IV'][datum.value]"}},
     "x2": {"field": "xb"}, "detail": {"field": "s", "type": "nominal"}}},
   {"data": {"name": "b"}, "transform": [{"filter": "datum.p==='SKCM'"}], "mark": {"type": "rule", "color": "#1a1a1a", "strokeWidth": 1},
    "encoding": {"x": {"field": "s", "type": "quantitative", "axis": null}, "y": {"field": "lo", "type": "quantitative", "axis": null}, "y2": {"field": "hi"}}},
   {"data": {"name": "b"}, "transform": [{"filter": "datum.p==='SKCM'"}], "mark": {"type": "rule", "color": "#000", "strokeWidth": 5},
    "encoding": {"x": {"field": "s", "type": "quantitative", "axis": null}, "y": {"field": "q1", "type": "quantitative", "axis": null}, "y2": {"field": "q3"}}},
   {"data": {"name": "b"}, "transform": [{"filter": "datum.p==='SKCM'"}], "mark": {"type": "point", "shape": "square", "filled": true, "color": "#eeeeee", "size": 10, "opacity": 1},
    "encoding": {"x": {"field": "s", "type": "quantitative", "axis": null}, "y": {"field": "m", "type": "quantitative", "axis": null}}},
   {"data": {"values": [{}]}, "mark": {"type": "text", "text": "SKCM", "align": "center", "baseline": "alphabetic", "fontSize": 15, "color": "#1d7a46"},
    "encoding": {"x": {"datum": 3.0, "type": "quantitative", "axis": null}, "y": {"datum": 7.562, "type": "quantitative", "axis": null}}},
   {"data": {"values": [{}]}, "mark": {"type": "text", "text": ["F value = 4.27", "Pr(>F) = 0.00213"], "align": "right", "baseline": "top", "fontSize": 10, "lineHeight": 12, "color": "#111"},
    "encoding": {"x": {"datum": 5.38, "type": "quantitative", "axis": null}, "y": {"datum": 7.086, "type": "quantitative", "axis": null}}},
   {"data": {"values": [{}]}, "mark": {"type": "rect", "color": "#1a1a1a"},
    "encoding": {"x": {"datum": -0.2047, "type": "quantitative", "axis": null}, "x2": {"datum": 0.1822}, "y": {"datum": 0.303, "type": "quantitative", "axis": null}, "y2": {"datum": -0.281}}},
   {"data": {"values": [{}]}, "mark": {"type": "text", "text": "g", "fontSize": 25, "color": "white", "align": "center", "baseline": "alphabetic"},
    "encoding": {"x": {"datum": -0.0112, "type": "quantitative", "axis": null}, "y": {"datum": -0.096, "type": "quantitative", "axis": null}}}
  ]},
 {"width": 265, "height": 214, "resolve": {"axis": {"x": "independent", "y": "independent"}},
  "layer": [
   {"data": {"name": "v"}, "transform": [{"filter": "datum.p==='UCS'"}, {"calculate": "datum.s-0.4*datum.d", "as": "xa"}, {"calculate": "datum.s+0.4*datum.d", "as": "xb"}],
    "mark": {"type": "area", "orient": "horizontal", "fill": "#6abd45", "stroke": "#2b2b2b", "strokeWidth": 1, "opacity": 1},
    "encoding": {"y": {"field": "y", "type": "quantitative", "scale": {"domain": [2.009, 7.75], "nice": false, "zero": false}, "axis": {"values": [3,4,5,6,7], "format": "d", "title": null, "labelOverlap": false}},
     "x": {"field": "xa", "type": "quantitative", "scale": {"domain": [0.34, 4.66], "nice": false, "zero": false}, "axis": {"values": [1,2,3,4], "title": null, "labelOverlap": false, "labelExpr": "['','Stage I','Stage II','Stage III','Stage IV'][datum.value]"}},
     "x2": {"field": "xb"}, "detail": {"field": "s", "type": "nominal"}}},
   {"data": {"name": "b"}, "transform": [{"filter": "datum.p==='UCS'"}], "mark": {"type": "rule", "color": "#1a1a1a", "strokeWidth": 1},
    "encoding": {"x": {"field": "s", "type": "quantitative", "axis": null}, "y": {"field": "lo", "type": "quantitative", "axis": null}, "y2": {"field": "hi"}}},
   {"data": {"name": "b"}, "transform": [{"filter": "datum.p==='UCS'"}], "mark": {"type": "rule", "color": "#000", "strokeWidth": 5},
    "encoding": {"x": {"field": "s", "type": "quantitative", "axis": null}, "y": {"field": "q1", "type": "quantitative", "axis": null}, "y2": {"field": "q3"}}},
   {"data": {"name": "b"}, "transform": [{"filter": "datum.p==='UCS'"}], "mark": {"type": "point", "shape": "square", "filled": true, "color": "#eeeeee", "size": 10, "opacity": 1},
    "encoding": {"x": {"field": "s", "type": "quantitative", "axis": null}, "y": {"field": "m", "type": "quantitative", "axis": null}}},
   {"data": {"values": [{}]}, "mark": {"type": "text", "text": "UCS", "align": "center", "baseline": "alphabetic", "fontSize": 15, "color": "#1d7a46"},
    "encoding": {"x": {"datum": 2.5, "type": "quantitative", "axis": null}, "y": {"datum": 8.053, "type": "quantitative", "axis": null}}},
   {"data": {"values": [{}]}, "mark": {"type": "text", "text": ["F value = 6.82", "Pr(>F) = 0.000568"], "align": "right", "baseline": "top", "fontSize": 10, "lineHeight": 12, "color": "#111"},
    "encoding": {"x": {"datum": 4.427, "type": "quantitative", "axis": null}, "y": {"datum": 7.576, "type": "quantitative", "axis": null}}},
   {"data": {"values": [{}]}, "mark": {"type": "rect", "color": "#1a1a1a"},
    "encoding": {"x": {"datum": -0.3773, "type": "quantitative", "axis": null}, "x2": {"datum": -0.0186}, "y": {"datum": 1.768, "type": "quantitative", "axis": null}, "y2": {"datum": 1.204}}},
   {"data": {"values": [{}]}, "mark": {"type": "text", "text": "h", "fontSize": 25, "color": "white", "align": "center", "baseline": "alphabetic"},
    "encoding": {"x": {"datum": -0.198, "type": "quantitative", "axis": null}, "y": {"datum": 1.365, "type": "quantitative", "axis": null}}}
  ]}
]
}
